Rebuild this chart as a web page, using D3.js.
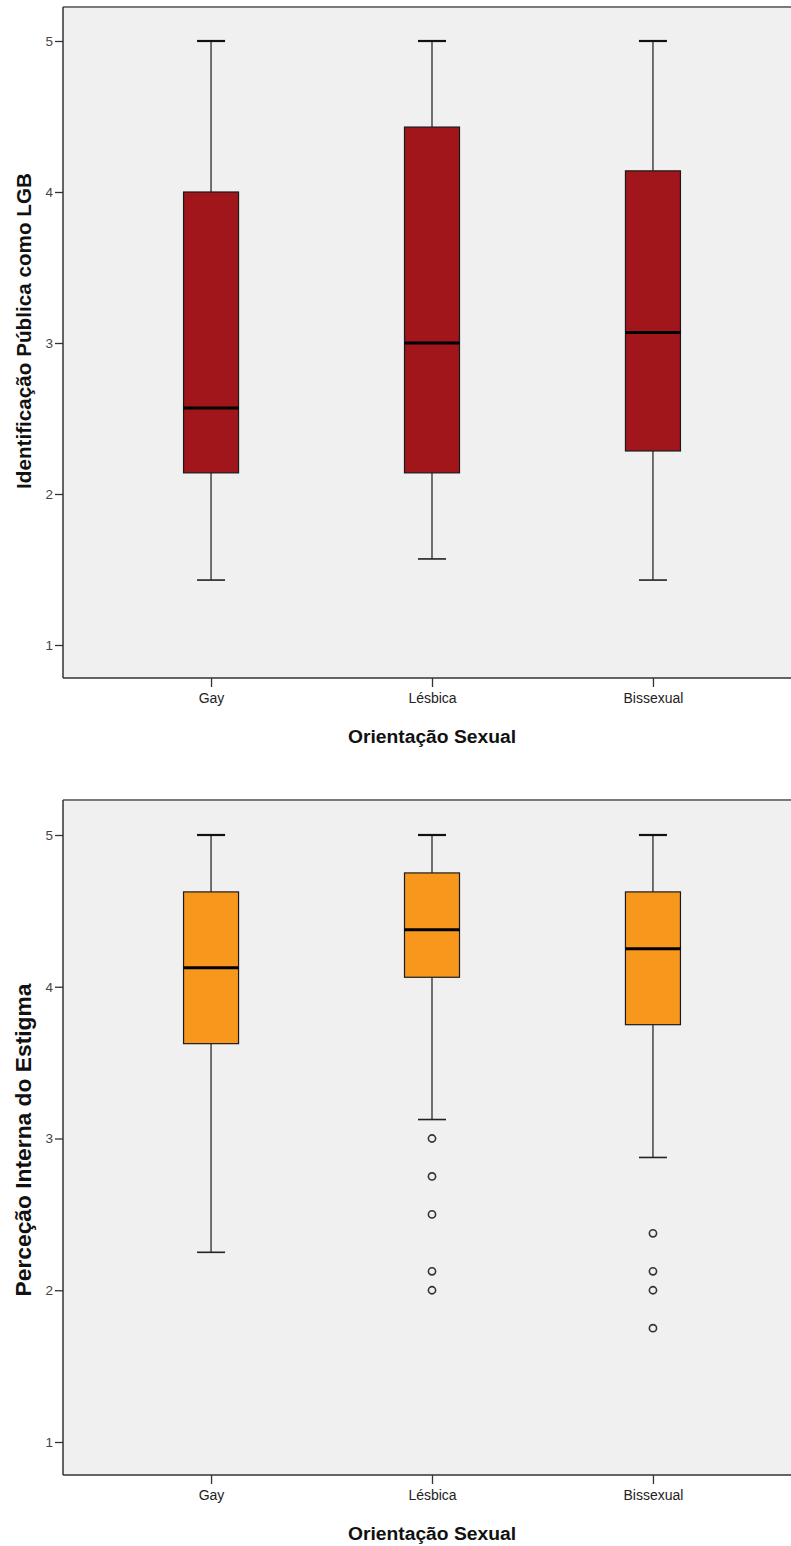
<!DOCTYPE html>
<html>
<head>
<meta charset="utf-8">
<script src="https://cdn.jsdelivr.net/npm/d3@7"></script>
<style>
  body { margin: 0; background: #fff; }
  svg { display: block; font-family: "Liberation Sans", Arial, sans-serif; }
</style>
</head>
<body>
<svg id="chart" width="791" height="1546"></svg>
<script>
var categories = ["Gay", "Lésbica", "Bissexual"]
var yTicks = [1, 2, 3, 4, 5]

// Identificação Pública como LGB
var idLow = [1.43, 1.57, 1.43]
var idQ1 = [2.14, 2.14, 2.285]
var idMedian = [2.57, 3.0, 3.07]
var idQ3 = [4.0, 4.43, 4.14]
var idHigh = [5, 5, 5]
var idOutliers = [[], [], []]

// Perceção Interna do Estigma
var peLow = [2.25, 3.125, 2.875]
var peQ1 = [3.625, 4.0625, 3.75]
var peMedian = [4.125, 4.375, 4.25]
var peQ3 = [4.625, 4.75, 4.625]
var peHigh = [5, 5, 5]
var peOutliers = [[], [3.0, 2.75, 2.5, 2.125, 2.0], [2.375, 2.125, 2.0, 1.75]]

var svg = d3.select('#chart')

function boxes(low, q1, med, q3, high, outl){
  return categories.map(function(c, i){
    return {cat: c, low: low[i], q1: q1[i], med: med[i], q3: q3[i], high: high[i], out: outl[i]}
  })
}

// size a title so it spans about the same length as in the picture
function fitText(sel, len){
  var w = sel.node().getComputedTextLength()
  var fs = parseFloat(sel.style('font-size'))
  sel.style('font-size', (fs * len / w).toFixed(2) + 'px')
}

function drawBox(opt){
  var g = svg.append('g')
  var left = 63, right = 801

  var x = d3.scalePoint().domain(categories).range([left, right]).padding(0.67)
  var y = d3.scaleLinear().domain([1, 5]).range([opt.y1, opt.y5])

  // plot background
  g.append('rect')
    .attr('x', left).attr('y', opt.top)
    .attr('width', right - left).attr('height', opt.bottom - opt.top)
    .attr('fill', '#f0f0f0')

  var boxW = 55, capW = 28

  var sel = g.selectAll('g.box').data(opt.data).enter().append('g').attr('class', 'box')

  // whiskers
  sel.append('line')
    .attr('x1', d => x(d.cat)).attr('x2', d => x(d.cat))
    .attr('y1', d => y(d.high)).attr('y2', d => y(d.q3))
    .attr('stroke', '#2a2a2a').attr('stroke-width', 1.3)
  sel.append('line')
    .attr('x1', d => x(d.cat)).attr('x2', d => x(d.cat))
    .attr('y1', d => y(d.q1)).attr('y2', d => y(d.low))
    .attr('stroke', '#2a2a2a').attr('stroke-width', 1.3)
  // caps
  sel.append('line')
    .attr('x1', d => x(d.cat) - capW / 2).attr('x2', d => x(d.cat) + capW / 2)
    .attr('y1', d => y(d.high)).attr('y2', d => y(d.high))
    .attr('stroke', '#111').attr('stroke-width', 2.2)
  sel.append('line')
    .attr('x1', d => x(d.cat) - capW / 2).attr('x2', d => x(d.cat) + capW / 2)
    .attr('y1', d => y(d.low)).attr('y2', d => y(d.low))
    .attr('stroke', '#222').attr('stroke-width', 1.6)

  // box
  sel.append('rect')
    .attr('x', d => x(d.cat) - boxW / 2).attr('width', boxW)
    .attr('y', d => y(d.q3)).attr('height', d => y(d.q1) - y(d.q3))
    .attr('fill', opt.color).attr('stroke', '#1a1a1a').attr('stroke-width', 1.2)

  // median
  sel.append('line')
    .attr('x1', d => x(d.cat) - boxW / 2).attr('x2', d => x(d.cat) + boxW / 2)
    .attr('y1', d => y(d.med)).attr('y2', d => y(d.med))
    .attr('stroke', '#000').attr('stroke-width', 3)

  // outliers
  sel.selectAll('circle').data(d => d.out.map(v => ({cat: d.cat, v: v}))).enter()
    .append('circle')
    .attr('cx', d => x(d.cat)).attr('cy', d => y(d.v)).attr('r', 3.6)
    .attr('fill', 'none').attr('stroke', '#333').attr('stroke-width', 1.6)

  // frame: top gray, left and bottom dark
  g.append('line').attr('x1', left).attr('x2', right).attr('y1', opt.top).attr('y2', opt.top)
    .attr('stroke', '#7a7a7a').attr('stroke-width', 2)
  g.append('line').attr('x1', left).attr('x2', left).attr('y1', opt.top).attr('y2', opt.bottom)
    .attr('stroke', '#333').attr('stroke-width', 1.5)
  g.append('line').attr('x1', left).attr('x2', right).attr('y1', opt.bottom).attr('y2', opt.bottom)
    .attr('stroke', '#333').attr('stroke-width', 1.5)

  // y axis
  var yAxis = g.append('g').attr('transform', 'translate(' + left + ',0)')
    .call(d3.axisLeft(y).tickValues(yTicks).tickSize(8).tickPadding(2).tickFormat(d3.format('d')))
  yAxis.select('.domain').remove()
  yAxis.selectAll('line').attr('stroke', '#333').attr('stroke-width', 1.3)
  yAxis.selectAll('text').attr('fill', '#444').style('font-size', '13.5px')

  // x axis
  var xAxis = g.append('g').attr('transform', 'translate(0,' + opt.bottom + ')')
    .call(d3.axisBottom(x).tickSize(9).tickPadding(6))
  xAxis.select('.domain').remove()
  xAxis.selectAll('line').attr('stroke', '#333').attr('stroke-width', 1.3)
  xAxis.selectAll('text').attr('fill', '#222').style('font-size', '14px')

  // titles
  var xt = g.append('text')
    .attr('x', x(categories[1])).attr('y', opt.bottom + 65)
    .attr('text-anchor', 'middle')
    .style('font-size', '18px').style('font-weight', 'bold').attr('fill', '#111')
    .text('Orientação Sexual')
  fitText(xt, 168)

  var yt = g.append('text')
    .attr('transform', 'translate(31,' + opt.titleMid + ') rotate(-90)')
    .attr('text-anchor', 'middle')
    .style('font-size', '20px').style('font-weight', 'bold').attr('fill', '#111')
    .text(opt.title)
  fitText(yt, opt.titleLen)
}

drawBox({
  top: 7, bottom: 678, y5: 41, y1: 645,
  color: '#a1161b',
  title: 'Identificação Pública como LGB', titleMid: 331, titleLen: 316,
  data: boxes(idLow, idQ1, idMedian, idQ3, idHigh, idOutliers)
})

drawBox({
  top: 800, bottom: 1475, y5: 835, y1: 1442,
  color: '#f7981d',
  title: 'Perceção Interna do Estigma', titleMid: 1140, titleLen: 313,
  data: boxes(peLow, peQ1, peMedian, peQ3, peHigh, peOutliers)
})
</script>
</body>
</html>
